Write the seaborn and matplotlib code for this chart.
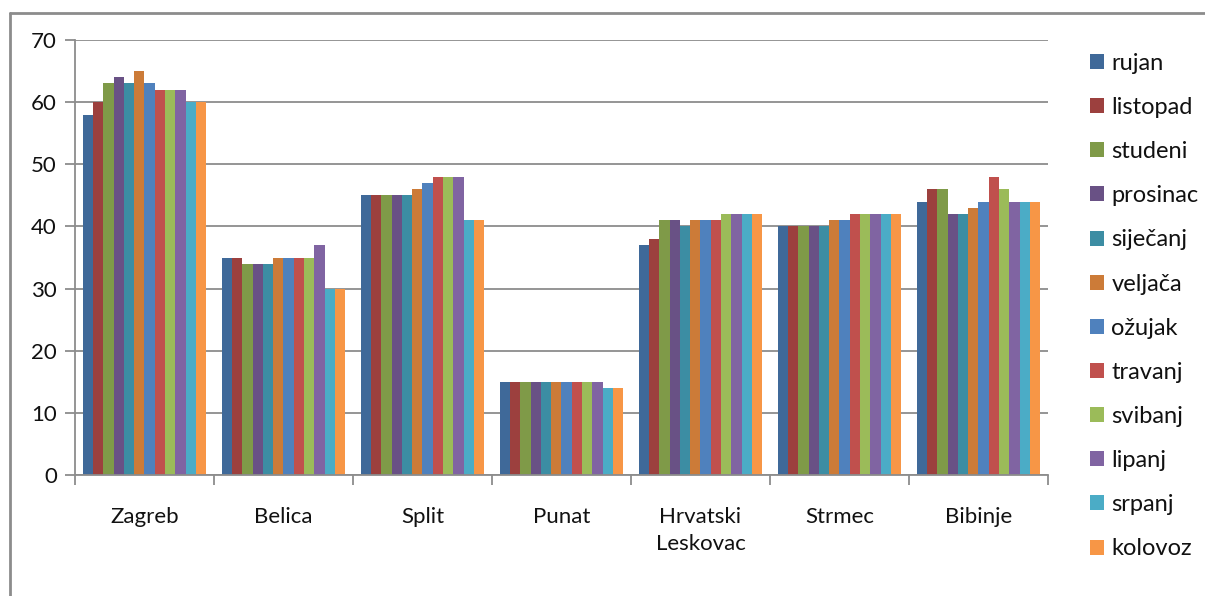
import matplotlib
matplotlib.use('Agg')
import matplotlib.pyplot as plt
from matplotlib.lines import Line2D
from matplotlib.patches import Patch
import numpy as np
import pandas as pd
import seaborn as sns

towns = ['Zagreb', 'Belica', 'Split', 'Punat', 'Hrvatski\nLeskovac', 'Strmec', 'Bibinje']
months = ['rujan', 'listopad', 'studeni', 'prosinac', 'siječanj', 'veljača',
          'ožujak', 'travanj', 'svibanj', 'lipanj', 'srpanj', 'kolovoz']

zagreb = [58, 60, 63, 64, 63, 65, 63, 62, 62, 62, 60, 60]
belica = [35, 35, 34, 34, 34, 35, 35, 35, 35, 37, 30, 30]
split = [45, 45, 45, 45, 45, 46, 47, 48, 48, 48, 41, 41]
punat = [15, 15, 15, 15, 15, 15, 15, 15, 15, 15, 14, 14]
leskovac = [37, 38, 41, 41, 40, 41, 41, 41, 42, 42, 42, 42]
strmec = [40, 40, 40, 40, 40, 41, 41, 42, 42, 42, 42, 42]
bibinje = [44, 46, 46, 42, 42, 43, 44, 48, 46, 44, 44, 44]

colors = ['#3F6999', '#9C403E', '#7F9A48', '#695185', '#3C8DA3', '#CC7B38',
          '#4F81BD', '#C0504D', '#9BBB59', '#8064A2', '#4BACC6', '#F79646']

values = [zagreb, belica, split, punat, leskovac, strmec, bibinje]
rows = []
for town, vals in zip(towns, values):
    for m, v in zip(months, vals):
        rows.append({'town': town, 'month': m, 'value': v})
df = pd.DataFrame(rows)

sns.set_style('white')
plt.rcParams['font.family'] = ['Lato', 'DejaVu Sans']

fig = plt.figure(figsize=(12.05, 5.96), dpi=100)
ax = fig.add_axes([0.0622, 0.203, 0.8075, 0.7299])

sns.barplot(data=df, x='town', y='value', hue='month', hue_order=months,
            palette=colors, saturation=1, width=0.89, gap=0, linewidth=0,
            ax=ax, legend=False)

gray = '#8C8C8C'
txt = '#111111'
ax.set_ylim(0, 70)
ax.set_xlim(-0.5, len(towns) - 0.5)
ax.set_yticks(range(0, 71, 10))
ax.yaxis.grid(True, color=gray, lw=1.3)
ax.set_axisbelow(True)
ax.set_xlabel('')
ax.set_ylabel('')
for s in ['top', 'right']:
    ax.spines[s].set_visible(False)
for s in ['left', 'bottom']:
    ax.spines[s].set_color(gray)
    ax.spines[s].set_linewidth(1.3)

ax.set_xticks(np.arange(-0.5, len(towns), 1.0), minor=True)
ax.tick_params(axis='x', which='minor', length=7, width=1.3, color=gray, direction='out', bottom=True)
ax.tick_params(axis='x', which='major', length=0, pad=23, labelsize=16, labelcolor=txt)
ax.tick_params(axis='y', length=7, width=1.3, color=gray, direction='out', left=True, pad=6,
               labelsize=16, labelcolor=txt)
for lab in ax.get_xticklabels():
    lab.set_linespacing(1.45)

handles = [Patch(facecolor=c, edgecolor='none') for c in colors]
fig.legend(handles, months, loc='upper left', bbox_to_anchor=(0.887, 0.947),
           frameon=False, fontsize=17, handlelength=0.6, handleheight=0.6,
           handletextpad=0.3, labelspacing=0.98, labelcolor=txt)

# outer chart frame
fig.add_artist(Line2D([10 / 1205, 10 / 1205], [0, 1 - 13 / 596], transform=fig.transFigure,
                      color='#8C8C8C', lw=2))
fig.add_artist(Line2D([10 / 1205, 1], [1 - 13 / 596, 1 - 13 / 596], transform=fig.transFigure,
                      color='#8C8C8C', lw=2))

fig.savefig('out.png', dpi=100)
